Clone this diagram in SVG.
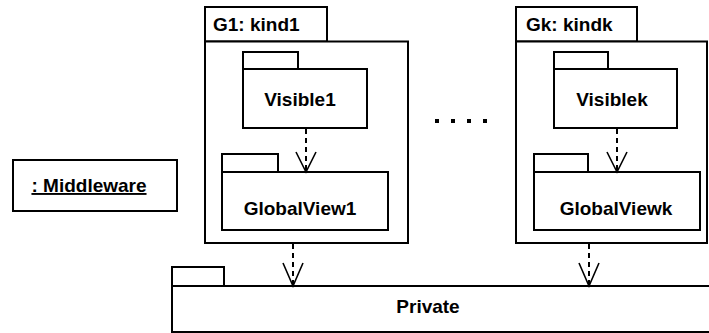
<svg xmlns="http://www.w3.org/2000/svg" width="709" height="333" viewBox="0 0 709 333">
  <style>
    .box { fill: #fff; stroke: #000; stroke-width: 2; }
    .lbl { font-family: "Liberation Sans", Arial, sans-serif; font-weight: bold; font-size: 19px; fill: #000; }
    .mid { text-anchor: middle; }
    .dep { fill: none; stroke: #000; stroke-width: 2; stroke-dasharray: 5 4; }
    .head { fill: none; stroke: #000; stroke-width: 1.6; }
  </style>
  <rect width="709" height="333" fill="#fff"/>

  <g id="middleware">
    <rect class="box" x="13" y="160" width="164" height="51"/>
    <text class="lbl mid" x="89" y="192" text-decoration="underline">: Middleware</text>
  </g>

  <g id="g1">
    <rect class="box" x="205" y="7" width="122" height="34.5"/>
    <rect class="box" x="205" y="41.5" width="203" height="201.5"/>
    <text class="lbl" x="213" y="31">G1: kind1</text>
  </g>
  <g id="visible1">
    <rect class="box" x="243" y="52" width="55" height="17"/>
    <rect class="box" x="243" y="69" width="124" height="59"/>
    <text class="lbl mid" x="300" y="106">Visible1</text>
  </g>
  <g id="globalview1">
    <rect class="box" x="222" y="154" width="56" height="18"/>
    <rect class="box" x="222" y="172" width="166" height="58"/>
    <text class="lbl mid" x="300" y="215">GlobalView1</text>
  </g>

  <g id="dots">
    <rect x="435" y="119" width="4" height="4"/>
    <rect x="451" y="119" width="4" height="4"/>
    <rect x="467" y="119" width="4" height="4"/>
    <rect x="483" y="119" width="4" height="4"/>
  </g>

  <g id="gk">
    <rect class="box" x="516" y="7" width="121" height="34.5"/>
    <rect class="box" x="516" y="41.5" width="191" height="201.5"/>
    <text class="lbl" x="526" y="31">Gk: kindk</text>
  </g>
  <g id="visiblek">
    <rect class="box" x="554" y="52" width="54" height="17"/>
    <rect class="box" x="554" y="69" width="123" height="59"/>
    <text class="lbl mid" x="612" y="106">Visiblek</text>
  </g>
  <g id="globalviewk">
    <rect class="box" x="534" y="154" width="54" height="18"/>
    <rect class="box" x="534" y="172" width="166" height="58"/>
    <text class="lbl mid" x="616" y="215">GlobalViewk</text>
  </g>

  <g id="private">
    <rect class="box" x="172" y="267" width="52" height="19"/>
    <rect class="box" x="172" y="286" width="545" height="46"/>
    <text class="lbl mid" x="428" y="313">Private</text>
  </g>

  <g id="connectors">
    <line class="dep" x1="306" y1="129" x2="306" y2="171"/>
    <polyline class="head" points="296,152 306,172 316,152"/>
    <line class="dep" x1="617" y1="129" x2="617" y2="171"/>
    <polyline class="head" points="607,152 617,172 627,152"/>
    <line class="dep" x1="293" y1="244" x2="293" y2="285"/>
    <polyline class="head" points="283,263 293,286 303,263"/>
    <line class="dep" x1="589" y1="244" x2="589" y2="285"/>
    <polyline class="head" points="579,263 589,286 599,263"/>
  </g>
</svg>
